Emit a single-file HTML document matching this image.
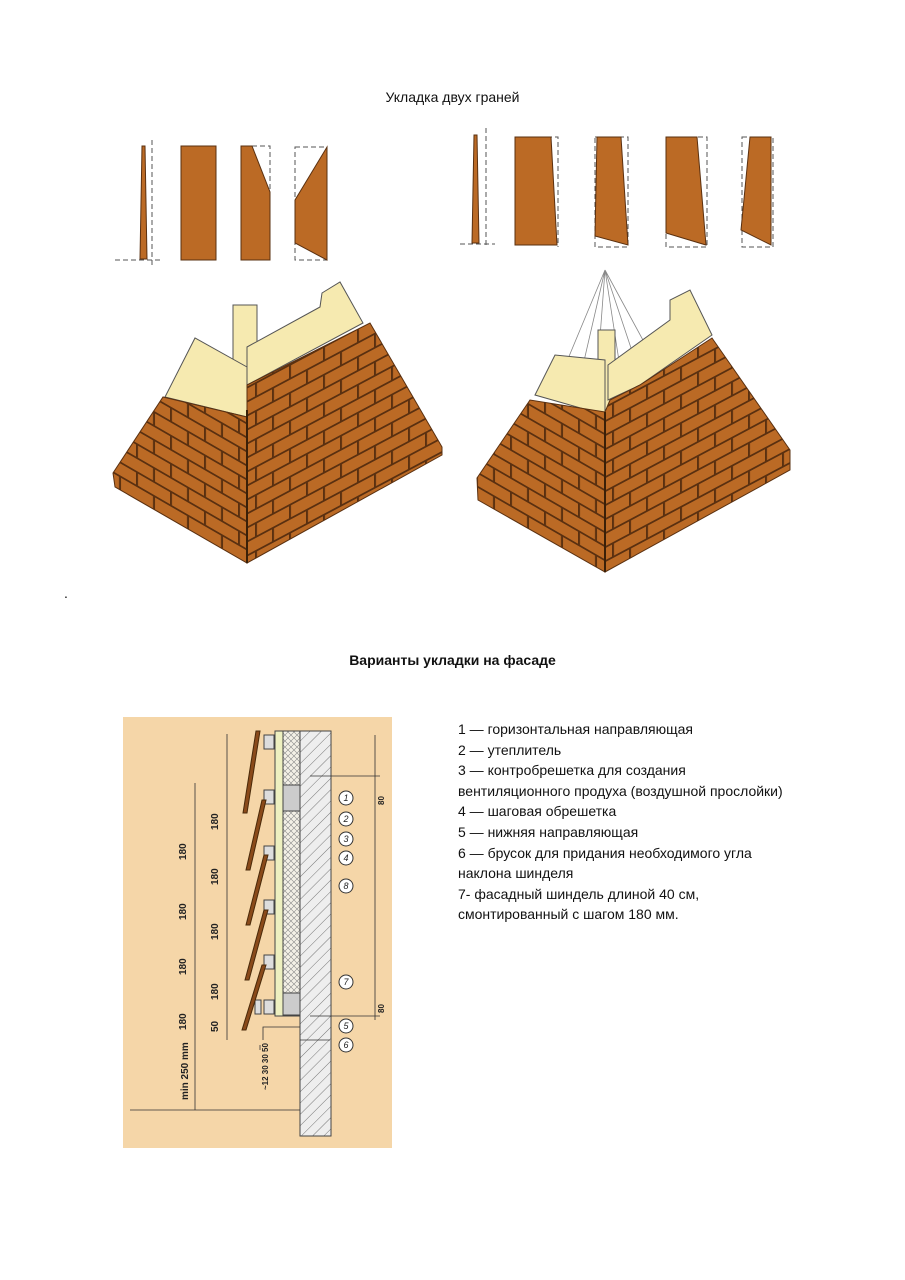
<!DOCTYPE html>
<html><head><meta charset="utf-8"><style>
body{margin:0;background:#fff;width:905px;height:1280px;position:relative;font-family:"Liberation Sans",sans-serif;overflow:hidden}
.t{position:absolute;font-size:14px;color:#111}
.list{position:absolute;left:458px;top:719px;font-size:14px;line-height:20.6px;color:#111}
</style></head><body>
<div class="t" style="left:0;width:905px;text-align:center;top:89px">Укладка двух граней</div>
<div class="t" style="left:0;width:905px;text-align:center;top:652px;font-weight:bold">Варианты укладки на фасаде</div>
<div class="t" style="left:64px;top:585px">.</div>
<svg width="905" height="1280" style="position:absolute;left:0;top:0">
<defs>
<pattern id="shL" width="34" height="28" patternUnits="userSpaceOnUse" patternTransform="skewY(30)">
<rect width="34" height="28" fill="#bb6a25"/><path d="M0 1H34M0 15H34M1 0V14M18 14V28" stroke="#5a3010" stroke-width="2"/></pattern>
<pattern id="shR" width="34" height="28" patternUnits="userSpaceOnUse" patternTransform="skewY(-28)">
<rect width="34" height="28" fill="#bb6a25"/><path d="M0 1H34M0 15H34M1 0V14M18 14V28" stroke="#5a3010" stroke-width="2"/></pattern>
<pattern id="hat" width="8" height="8" patternUnits="userSpaceOnUse" patternTransform="rotate(-45)">
<rect width="8" height="8" fill="#eee"/><path d="M0 0H8" stroke="#777" stroke-width="1"/></pattern>
<pattern id="ins" width="6" height="6" patternUnits="userSpaceOnUse">
<rect width="6" height="6" fill="#f3f0e6"/><path d="M0 0L6 6M6 0L0 6" stroke="#888" stroke-width=".6"/></pattern>
</defs>
<g stroke="#555" stroke-dasharray="5,3" fill="none">
<path d="M115 260H160M152 140V268M295 147H327V260H295ZM252 146H270V192"/>
</g>
<polygon points="142,146 145,146 147,259 140,259" fill="#bb6a25" stroke="#5a3010"/>
<rect x="181" y="146" width="35" height="114" fill="#bb6a25" stroke="#5a3010"/>
<polygon points="241,146 252,146 270,192 270,260 241,260" fill="#bb6a25" stroke="#5a3010"/>
<polygon points="295,200 327,147 327,260 295,243" fill="#bb6a25" stroke="#5a3010"/>
<g stroke="#555" stroke-dasharray="5,3" fill="none">
<path d="M460 244H495M486 128V248M515 137H558V247M595 137H628V247H595ZM666 137H707V247H666ZM742 137H773V247H742Z"/>
</g>
<polygon points="474,135 477,135 479,243 472,243" fill="#bb6a25" stroke="#5a3010"/>
<polygon points="515,137 551,137 557,245 515,245" fill="#bb6a25" stroke="#5a3010"/>
<polygon points="597,137 621,137 628,245 595,236" fill="#bb6a25" stroke="#5a3010"/>
<polygon points="666,137 697,137 706,245 666,233" fill="#bb6a25" stroke="#5a3010"/>
<polygon points="750,137 771,137 771,245 741,230" fill="#bb6a25" stroke="#5a3010"/>
<polygon points="233,305 257,305 257,367 233,367" fill="#f6eab0" stroke="#555"/>
<polygon points="165,397 195,338 247,367 247,417" fill="#f6eab0" stroke="#555"/>
<polygon points="247,347 320,307 322,293 340,282 363,323 247,385" fill="#f6eab0" stroke="#555"/>
<polygon points="247,417 163,397 113,473 115,487 247,563" fill="url(#shL)" stroke="#5a3010"/>
<polygon points="247,417 247,385 370,323 442,447 442,455 247,563" fill="url(#shR)" stroke="#5a3010"/>
<line x1="247" y1="410" x2="247" y2="563" stroke="#3a2008" stroke-width="2"/>
<path d="M605 270 L575 400 M605 270 L555 390 M605 270 L625 400 M605 270 L645 390 M605 270 L595 405 M605 270 L670 390" stroke="#888" fill="none" stroke-width=".8"/>
<polygon points="598,330 615,330 615,410 598,410" fill="#f6eab0" stroke="#555"/>
<polygon points="535,395 555,355 605,360 605,415" fill="#f6eab0" stroke="#555"/>
<polygon points="608,365 670,320 670,300 690,290 712,335 640,385 608,400" fill="#f6eab0" stroke="#555"/>
<polygon points="605,412 530,400 477,478 478,500 605,572" fill="url(#shL)" stroke="#5a3010"/>
<polygon points="605,412 610,400 640,385 712,338 790,450 790,470 605,572" fill="url(#shR)" stroke="#5a3010"/>
<line x1="605" y1="412" x2="605" y2="572" stroke="#3a2008" stroke-width="2"/>
<rect x="123" y="717" width="269" height="431" fill="#f5d6a8"/>
<rect x="300" y="731" width="31" height="405" fill="url(#hat)" stroke="#444"/>
<rect x="283" y="731" width="17" height="285" fill="url(#ins)" stroke="#444"/>
<rect x="283" y="785" width="17" height="26" fill="#ccc" stroke="#444"/>
<rect x="283" y="993" width="17" height="22" fill="#ccc" stroke="#444"/>
<rect x="275" y="731" width="8" height="285" fill="#eef0c0" stroke="#444"/>
<g fill="#ddd" stroke="#444">
<rect x="264" y="735" width="10" height="14"/><rect x="264" y="790" width="10" height="14"/><rect x="264" y="846" width="10" height="14"/><rect x="264" y="900" width="10" height="14"/><rect x="264" y="955" width="10" height="14"/><rect x="264" y="1000" width="10" height="14"/><rect x="255" y="1000" width="6" height="14"/>
</g>
<g fill="#8a4a1a" stroke="#4a2a0a">
<polygon points="256,731 260,731 247,813 243,813"/>
<polygon points="262,800 266,800 250,870 246,870"/>
<polygon points="264,855 268,855 250,925 246,925"/>
<polygon points="264,910 268,910 249,980 245,980"/>
<polygon points="262,965 266,965 246,1030 242,1030"/>
</g>
<g stroke="#333" fill="none" stroke-width=".8">
<path d="M227 734V1040M195 783V1110M375 735V1020M310 776H380M310 1016H380M130 1110H300M300 1040H330M263 1040V1027H300M260 1050V1045"/>
</g>
<g fill="#fff" stroke="#333"><circle cx="346" cy="798" r="7"/><circle cx="346" cy="819" r="7"/><circle cx="346" cy="839" r="7"/><circle cx="346" cy="858" r="7"/><circle cx="346" cy="886" r="7"/><circle cx="346" cy="982" r="7"/><circle cx="346" cy="1026" r="7"/><circle cx="346" cy="1045" r="7"/></g>
<g font-size="9" font-style="italic" text-anchor="middle" fill="#222"><text x="346" y="801">1</text><text x="346" y="822">2</text><text x="346" y="842">3</text><text x="346" y="861">4</text><text x="346" y="889">8</text><text x="346" y="985">7</text><text x="346" y="1029">5</text><text x="346" y="1048">6</text></g>
<g font-size="10" font-weight="bold" fill="#222">
<text transform="translate(186,860) rotate(-90)">180</text><text transform="translate(186,920) rotate(-90)">180</text><text transform="translate(186,975) rotate(-90)">180</text><text transform="translate(186,1030) rotate(-90)">180</text>
<text transform="translate(218,830) rotate(-90)">180</text><text transform="translate(218,885) rotate(-90)">180</text><text transform="translate(218,940) rotate(-90)">180</text><text transform="translate(218,1000) rotate(-90)">180</text><text transform="translate(218,1032) rotate(-90)">50</text>
<text transform="translate(188,1100) rotate(-90)">min 250 mm</text>
<text transform="translate(384,805) rotate(-90)" font-size="8">80</text><text transform="translate(384,1013) rotate(-90)" font-size="8">80</text>
<text transform="translate(268,1090) rotate(-90)" font-size="8">~12 30 30 50</text>
</g>
</svg>
<div class="list">1 — горизонтальная направляющая<br>2 — утеплитель<br>3 — контробрешетка для создания<br>вентиляционного продуха (воздушной прослойки)<br>4 — шаговая обрешетка<br>5 — нижняя направляющая<br>6 — брусок для придания необходимого угла<br>наклона шинделя<br>7- фасадный шиндель длиной 40 см,<br>смонтированный с шагом 180 мм.</div>
</body></html>
